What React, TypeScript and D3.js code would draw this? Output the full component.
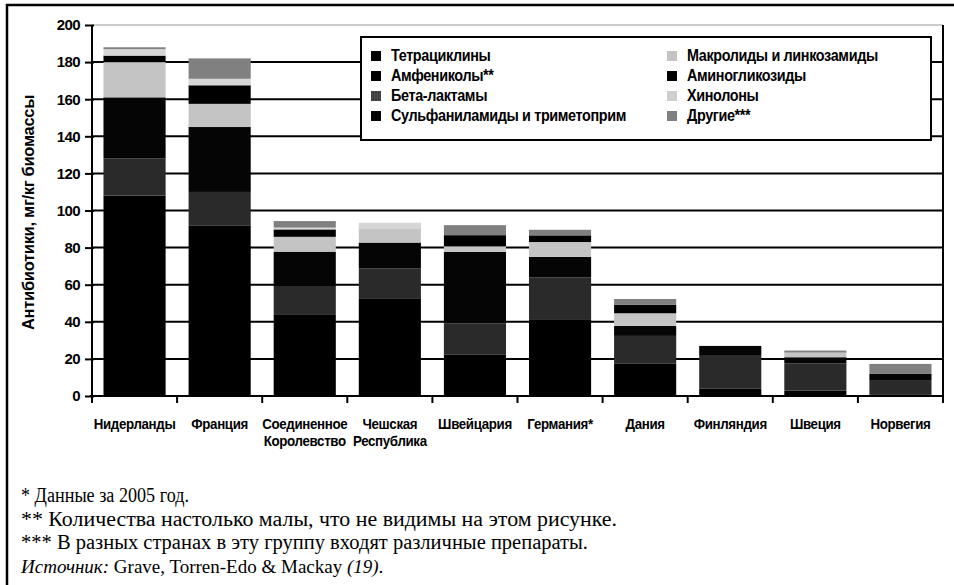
import * as d3 from "d3";
import { useEffect, useRef } from "react";

const countries = [
  "Нидерланды",
  "Франция",
  "Соединенное Королевство",
  "Чешская Республика",
  "Швейцария",
  "Германия*",
  "Дания",
  "Финляндия",
  "Швеция",
  "Норвегия",
];

const seriesNames = [
  "Тетрациклины",
  "Амфениколы**",
  "Бета-лактамы",
  "Сульфаниламиды и триметоприм",
  "Макролиды и линкозамиды",
  "Аминогликозиды",
  "Хинолоны",
  "Другие***",
];

// mg/kg biomass, one value per country, in the order of `countries`
const tetracyclines = [108, 92, 43.7, 52.7, 22.2, 41.4, 17.6, 4.1, 2.9, 0.6];
const amphenicols = [0, 0, 0, 0, 0, 0, 0, 0, 0, 0];
const betaLactams = [20, 18, 15.6, 16, 17, 22.6, 14.8, 18, 14.7, 8];
const sulfonamides = [33, 35, 18.5, 14, 38.5, 11, 5.4, 4.9, 3.3, 3.3];
const macrolides = [19, 12.5, 8, 7.7, 3, 8, 6.8, 0, 2.5, 0];
const aminoglycosides = [3.5, 10, 4, 0, 6, 3.6, 4.5, 0, 0, 0];
const quinolones = [3.5, 3.5, 1, 3, 0, 0, 0, 0, 0, 0];
const others = [1, 11, 3.5, 0, 5.4, 3, 3.2, 0, 1.1, 5.4];

const yTicks = [0, 20, 40, 60, 80, 100, 120, 140, 160, 180, 200];

const notes = [
  "* Данные за 2005 год.",
  "** Количества настолько малы, что не видимы на этом рисунке.",
  "*** В разных странах в эту группу входят различные препараты.",
];

const seriesValues = [
  tetracyclines,
  amphenicols,
  betaLactams,
  sulfonamides,
  macrolides,
  aminoglycosides,
  quinolones,
  others,
];
const colors = ["#000000", "#000000", "#2a2a2a", "#050505", "#c4c4c4", "#000000", "#d6d6d6", "#808080"];

const SANS = "'Liberation Sans Narrow', 'Liberation Sans', Arial, sans-serif";
const SERIF = "'Liberation Serif', 'DejaVu Serif', serif";

function drawChart(svgElement: SVGSVGElement) {
  const width = 954;
  const height = 585;
  const margin = { top: 25, right: 11, bottom: 189, left: 92 };
  const svg = d3.select(svgElement);
  svg.selectAll("*").remove();
  svg.attr("width", width).attr("height", height).attr("viewBox", `0 0 ${width} ${height}`);

  svg.append("rect").attr("width", width).attr("height", height).attr("fill", "#fff");
  // outer frame
  svg
    .append("rect")
    .attr("x", 7)
    .attr("y", 5)
    .attr("width", width + 20)
    .attr("height", height + 20)
    .attr("fill", "none")
    .attr("stroke", "#000")
    .attr("stroke-width", 2.5);

  const table = countries.map((c, i) => {
    const row: Record<string, number | string> = { country: c };
    seriesNames.forEach((s, k) => (row[s] = seriesValues[k][i]));
    return row;
  });

  const x = d3
    .scaleBand()
    .domain(countries)
    .range([margin.left, width - margin.right])
    .paddingInner(0.27)
    .paddingOuter(0.135);

  const y = d3
    .scaleLinear()
    .domain([0, 200])
    .range([height - margin.bottom, margin.top]);

  const x0 = margin.left;
  const x1 = width - margin.right;
  const step = (x1 - x0) / countries.length;

  // top border (faint) and gridlines
  svg
    .append("line")
    .attr("x1", x0)
    .attr("x2", x1)
    .attr("y1", y(200))
    .attr("y2", y(200))
    .attr("stroke", "#9a9a9a")
    .attr("stroke-width", 1);

  svg
    .append("g")
    .selectAll("line")
    .data(yTicks.filter((t) => t > 0 && t < 200))
    .join("line")
    .attr("x1", x0)
    .attr("x2", x1)
    .attr("y1", (t) => y(t))
    .attr("y2", (t) => y(t))
    .attr("stroke", "#000")
    .attr("stroke-width", 2);

  // right border
  svg
    .append("line")
    .attr("x1", x1)
    .attr("x2", x1)
    .attr("y1", y(200))
    .attr("y2", y(0) + 7)
    .attr("stroke", "#000")
    .attr("stroke-width", 2);

  const stack = d3.stack<Record<string, number | string>>().keys(seriesNames);
  const layers = stack(table as any);

  svg
    .append("g")
    .selectAll("g")
    .data(layers)
    .join("g")
    .attr("fill", (_, i) => colors[i])
    .selectAll("rect")
    .data((d) => d)
    .join("rect")
    .attr("x", (d) => x(d.data.country as string)!)
    .attr("y", (d) => y(d[1]))
    .attr("width", x.bandwidth())
    .attr("height", (d) => Math.max(0, y(d[0]) - y(d[1])));

  // y axis
  const yAxis = svg
    .append("g")
    .attr("transform", `translate(${x0},0)`)
    .call(d3.axisLeft(y).tickValues(yTicks).tickSize(7).tickPadding(5));
  yAxis.select(".domain").attr("stroke-width", 2).attr("d", `M0,${y(200)}V${y(0)}`);
  yAxis.selectAll(".tick line").attr("stroke-width", 2).attr("x2", -7).attr("x1", 2);
  yAxis
    .selectAll("text")
    .attr("font-family", SANS)
    .attr("font-weight", "bold")
    .attr("font-size", 15)
    .attr("letter-spacing", -0.6)
    .attr("fill", "#000");

  // x axis baseline + ticks at band boundaries
  svg
    .append("line")
    .attr("x1", x0 - 2)
    .attr("x2", x1)
    .attr("y1", y(0))
    .attr("y2", y(0))
    .attr("stroke", "#000")
    .attr("stroke-width", 2);
  svg
    .append("g")
    .selectAll("line")
    .data(d3.range(countries.length + 1))
    .join("line")
    .attr("x1", (i) => x0 + i * step)
    .attr("x2", (i) => x0 + i * step)
    .attr("y1", y(0))
    .attr("y2", y(0) + 7)
    .attr("stroke", "#000")
    .attr("stroke-width", 2);

  // country labels, horizontally condensed like the original narrow face
  const labels = svg
    .append("g")
    .selectAll("text")
    .data(countries)
    .join("text")
    .attr("transform", (c) => `translate(${x(c)! + x.bandwidth() / 2},${y(0) + 33}) scale(0.86,1)`)
    .attr("text-anchor", "middle")
    .attr("font-family", SANS)
    .attr("font-weight", "bold")
    .attr("font-size", 15.5)
    .attr("letter-spacing", -0.4);
  labels
    .selectAll("tspan")
    .data((c) => c.split(" ").map((w, i) => ({ w, i })))
    .join("tspan")
    .attr("x", 0)
    .attr("dy", (d) => (d.i === 0 ? 0 : 17))
    .text((d) => d.w);

  // y title
  svg
    .append("text")
    .attr("transform", `translate(34,${(y(0) + y(200)) / 2 + 2}) rotate(-90)`)
    .attr("text-anchor", "middle")
    .attr("font-family", SANS)
    .attr("font-weight", "bold")
    .attr("font-size", 16.5)
    .attr("letter-spacing", -0.3)
    .text("Антибиотики, мг/кг биомассы");

  // legend
  const lg = svg.append("g");
  lg.append("rect")
    .attr("x", 361)
    .attr("y", 37)
    .attr("width", 570)
    .attr("height", 103)
    .attr("fill", "#fff")
    .attr("stroke", "#000")
    .attr("stroke-width", 2);
  const item = lg
    .selectAll("g")
    .data(seriesNames)
    .join("g")
    .attr("transform", (_, i) => `translate(${i < 4 ? 371 : 667},${51 + (i % 4) * 20})`);
  item
    .append("rect")
    .attr("width", 10)
    .attr("height", 10)
    .attr("fill", (_, i) => (i === 2 ? "#444" : i === 6 ? "#cfcfcf" : colors[i]));
  item
    .append("text")
    .attr("transform", "translate(20,10) scale(0.9,1)")
    .attr("font-family", SANS)
    .attr("font-weight", "bold")
    .attr("font-size", 16)
    .attr("letter-spacing", -0.4)
    .text((d) => d);

  // footnotes
  const noteLengths = [168, 596, 567];
  svg
    .append("g")
    .selectAll("text")
    .data(notes)
    .join("text")
    .attr("x", 21)
    .attr("y", (_, i) => 502 + i * 23.7)
    .attr("font-family", SERIF)
    .attr("font-size", 20)
    .attr("textLength", (_, i) => noteLengths[i])
    .attr("lengthAdjust", "spacingAndGlyphs")
    .text((d) => d);

  const src = svg
    .append("text")
    .attr("x", 21)
    .attr("y", 502 + 3 * 23.7)
    .attr("font-family", SERIF)
    .attr("font-size", 19);
  src.append("tspan").attr("font-style", "italic").text("Источник:");
  src.append("tspan").text(" Grave, Torren-Edo & Mackay ");
  src.append("tspan").attr("font-style", "italic").text("(19)");
  src.append("tspan").text(".");
}

export default function App() {
  const svgRef = useRef<SVGSVGElement>(null);

  useEffect(() => {
    if (svgRef.current) drawChart(svgRef.current);
  }, []);

  return (
    <svg
      ref={svgRef}
      style={{ position: "absolute", left: 0, top: 0, display: "block" }}
      role="img"
      aria-label="Антибиотики, мг/кг биомассы"
    />
  );
}
